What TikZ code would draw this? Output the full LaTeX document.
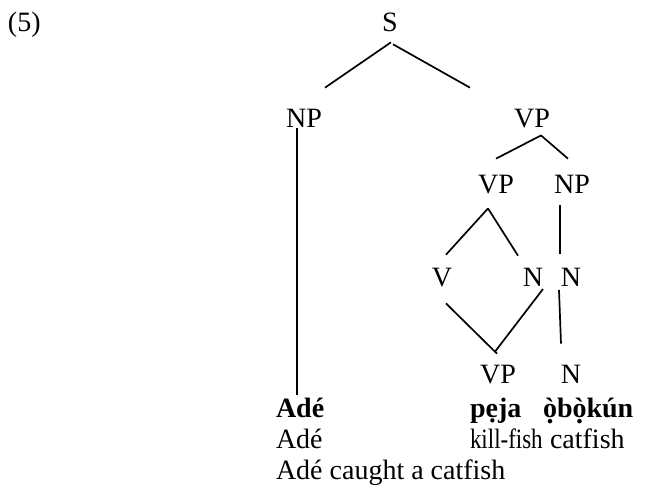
\documentclass[tikz,border=0pt]{standalone}
\usepackage{graphicx}
\usepackage{fontspec}
\setmainfont{Liberation Serif}
% o with grave accent and a dot below, stacked by hand
\newcommand\ogravedot{\ooalign{ò\cr\hidewidth\raisebox{-0.22em}{.}\hidewidth\cr}}
\begin{document}
\begin{tikzpicture}[x=1pt,y=-1pt,
  lab/.style={inner sep=0pt, outer sep=0pt, anchor=base, font=\fontsize{28}{31}\selectfont},
  word/.style={lab, anchor=base west},
  bword/.style={word, font=\fontsize{28}{31}\selectfont\bfseries},
  branch/.style={line width=1.7pt}]
\useasboundingbox (0,0) rectangle (664,491);

% example number
\node[word] (num) at (8,31) {(5)};

% tree labels
\node[lab] (S)   at (390,31)  {S};
\node[lab] (npA) at (304,127) {NP};
\node[lab] (vpA) at (532,127) {VP};
\node[lab] (vpB) at (496,193) {VP};
\node[lab] (npB) at (572,193) {NP};
\node[lab] (vA)  at (442,286) {V};
\node[lab] (nA)  at (533,286) {N};
\node[lab] (nB)  at (571,286) {N};
\node[lab] (vpC) at (498,383) {VP};
\node[lab] (nC)  at (571,383) {N};

% Yoruba words, gloss and translation
\node[bword] (w1) at (276,417) {Adé};
\node[bword] (w2) at (470,417) {pẹja};
\node[bword] (w3) at (543,417) {\ogravedot b\ogravedot kún};
\node[word]  (g1) at (276,448) {Adé};
\node[word]  (g2) at (470,448) {\scalebox{0.82}[1]{kill-fish}};
\node[word]  (g3) at (550,448) {catfish};
\node[word]  (tr) at (276,479) {Adé caught a catfish};

% branches
\draw[branch] ([shift={(1,11)}]S.south)    -- ([shift={(21,-21)}]npA.north);
\draw[branch] ([shift={(3,13)}]S.south)    -- ([shift={(-62,-21)}]vpA.north);
\draw[branch] ([shift={(-7,1)}]npA.south)  -- ([shift={(21,-22)}]w1.base west);
\draw[branch] ([shift={(9,8)}]vpA.south)   -- ([shift={(0,-16)}]vpB.north);
\draw[branch] ([shift={(9,8)}]vpA.south)   -- ([shift={(-4,-16)}]npB.north);
\draw[branch] ([shift={(-8,15)}]vpB.south) -- ([shift={(4,-13)}]vA.north);
\draw[branch] ([shift={(-8,15)}]vpB.south) -- ([shift={(-15,-12)}]nA.north);
\draw[branch] ([shift={(4,17)}]vA.south)   -- ([shift={(-1,-11)}]vpC.north);
\draw[branch] ([shift={(10,3)}]nA.south)   -- ([shift={(-3,-13)}]vpC.north);
\draw[branch] ([shift={(-12,12)}]npB.south) -- ([shift={(-11,-14)}]nB.north);
\draw[branch] ([shift={(-12,4)}]nB.south)  -- ([shift={(-10,-21)}]nC.north);
\end{tikzpicture}
\end{document}
